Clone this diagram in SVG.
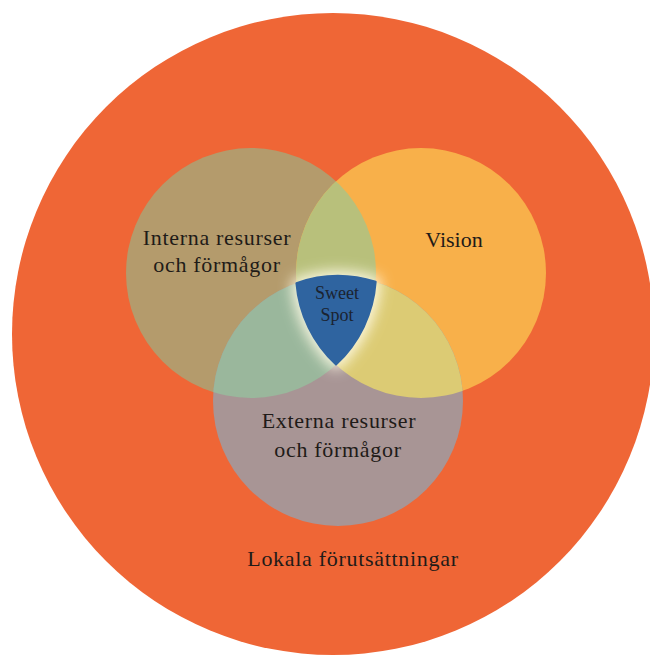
<svg xmlns="http://www.w3.org/2000/svg" width="650" height="657" viewBox="0 0 650 657">
  <style>
    .lbl { font-family: "Liberation Serif", "Times New Roman", serif; font-size: 22px; fill: #1f1b18; text-anchor: middle; letter-spacing: 0.7px; }
    .ss { font-family: "Liberation Serif", "Times New Roman", serif; font-size: 18px; fill: #1b2330; text-anchor: middle; }
  </style>
  <defs>
    <clipPath id="clipL"><circle cx="251" cy="273" r="125"/></clipPath>
    <clipPath id="clipR"><circle cx="421" cy="273" r="125"/></clipPath>
    <clipPath id="clipB"><circle cx="338" cy="401" r="125"/></clipPath>
    <filter id="glow" x="-50%" y="-50%" width="200%" height="200%">
      <feGaussianBlur stdDeviation="7"/>
    </filter>
  </defs>
  <rect width="650" height="657" fill="#ffffff"/>

  <g id="lokala">
    <circle cx="333" cy="334" r="321" fill="#EF6636"/>
    <text class="lbl" x="353" y="566">Lokala förutsättningar</text>
  </g>

  <g id="interna">
    <circle cx="251" cy="273" r="125" fill="#B49B6C"/>
  </g>
  <g id="vision">
    <circle cx="421" cy="273" r="125" fill="#F8B04A"/>
  </g>
  <g id="externa">
    <circle cx="338" cy="401" r="125" fill="#A89595"/>
  </g>

  <g id="overlaps">
    <circle cx="251" cy="273" r="125" fill="#B8C07B" clip-path="url(#clipR)"/>
    <circle cx="251" cy="273" r="125" fill="#9AB79C" clip-path="url(#clipB)"/>
    <circle cx="421" cy="273" r="125" fill="#DCCB74" clip-path="url(#clipB)"/>
  </g>

  <g id="labels">
    <text class="lbl" x="217" y="245">Interna resurser</text>
    <text class="lbl" x="217" y="272">och förmågor</text>
    <text class="lbl" x="454" y="247" style="letter-spacing:0">Vision</text>
    <text class="lbl" x="339" y="428">Externa resurser</text>
    <text class="lbl" x="338" y="457">och förmågor</text>
  </g>

  <g id="sweet-spot">
    <path d="M296.4,283.1 A125,125 0 0 1 375.7,281.8 A125,125 0 0 1 336,364.6 A125,125 0 0 1 296.4,283.1 Z" fill="#FFFBE6" stroke="#FFFBE6" stroke-width="10" stroke-linejoin="round" filter="url(#glow)" opacity="0.95"/>
    <path d="M296.4,283.1 A125,125 0 0 1 375.7,281.8 A125,125 0 0 1 336,364.6 A125,125 0 0 1 296.4,283.1 Z" fill="#2F64A0" stroke="#2F64A0" stroke-width="2" stroke-linejoin="round"/>
    <text class="ss" x="337" y="299">Sweet</text>
    <text class="ss" x="337" y="321">Spot</text>
  </g>
</svg>
